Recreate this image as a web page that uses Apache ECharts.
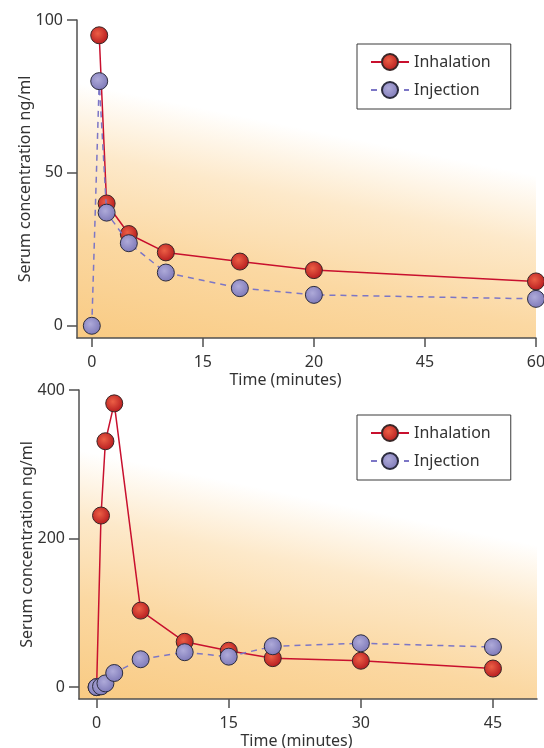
<!DOCTYPE html>
<html>
<head>
<meta charset="utf-8">
<script src="https://cdn.jsdelivr.net/npm/echarts@6/dist/echarts.min.js"></script>
<style>
html,body{margin:0;padding:0;background:#fff;}
#chart{width:544px;height:748px;}
</style>
</head>
<body>
<div id="chart"></div>
<script>
// ---- Data ----
// Top panel
const topInhalationTimes = [1, 2, 5, 10, 20, 30, 60];
const topInhalationValues = [95, 40, 30, 24, 21, 18.2, 14.5];
const topInjectionTimes = [0, 1, 2, 5, 10, 20, 30, 60];
const topInjectionValues = [0, 80, 37, 27, 17.4, 12.3, 10.1, 8.8];
const topXTickValues = [0, 15, 30, 45, 60];
const topXTickLabels = ['0', '15', '20', '45', '60'];
const topYTickValues = [0, 50, 100];

// Bottom panel
const botInhalationTimes = [0, 0.5, 1, 2, 5, 10, 15, 20, 30, 45];
const botInhalationValues = [0, 231, 331, 382, 103, 61, 49, 39, 35.5, 25];
const botInjectionTimes = [0, 0.5, 1, 2, 5, 10, 15, 20, 30, 45];
const botInjectionValues = [0, 1, 5, 19, 37.5, 47, 41, 55, 59, 54];
const botXTickValues = [0, 15, 30, 45];
const botXTickLabels = ['0', '15', '30', '45'];
const botYTickValues = [0, 200, 400];

const seriesNames = ['Inhalation', 'Injection'];
const xAxisTitle = 'Time (minutes)';
const yAxisTitle = 'Serum concentration ng/ml';

function pairs(xs, ys) { return xs.map((x, i) => [x, ys[i]]); }

const FONT = 'Noto Sans';
const TEXT = '#333333';
const AXIS = '#505050';

function makeBg() {
  return new echarts.graphic.LinearGradient(0.04, 1, 0.18, 0, [
    { offset: 0, color: '#f9cb84' },
    { offset: 0.3, color: '#fbd8a2' },
    { offset: 0.55, color: '#fde9ca' },
    { offset: 0.76, color: '#ffffff' },
    { offset: 1, color: '#ffffff' }
  ]);
}

const redFill = new echarts.graphic.RadialGradient(0.42, 0.4, 0.65, [
  { offset: 0, color: '#ec5f45' },
  { offset: 1, color: '#b2161c' }
]);
const blueFill = new echarts.graphic.RadialGradient(0.42, 0.4, 0.65, [
  { offset: 0, color: '#aeaad9' },
  { offset: 1, color: '#7b76b6' }
]);

function xAxis(gridIndex, min, max, tickVals, tickLabels, namePad) {
  return {
    type: 'value', gridIndex, min, max,
    name: xAxisTitle, nameLocation: 'middle', nameGap: 34, nameMoveOverlap: false,
    nameTextStyle: { fontFamily: FONT, fontSize: 16, color: TEXT, padding: namePad },
    axisLine: { show: true, onZero: false, lineStyle: { color: AXIS, width: 1.5 } },
    axisTick: { show: true, inside: false, length: 9, customValues: tickVals, lineStyle: { color: AXIS, width: 1.5 } },
    axisLabel: {
      customValues: tickVals, margin: 16, fontFamily: FONT, fontSize: 16, color: TEXT,
      formatter: v => tickLabels[tickVals.indexOf(v)]
    },
    splitLine: { show: false }
  };
}
function yAxis(gridIndex, min, max, tickVals) {
  return {
    type: 'value', gridIndex, min, max,
    name: yAxisTitle, nameLocation: 'middle', nameGap: 44, nameMoveOverlap: false,
    nameTextStyle: { fontFamily: FONT, fontSize: 16, color: TEXT },
    axisLine: { show: true, onZero: false, lineStyle: { color: AXIS, width: 1.5 } },
    axisTick: { show: true, inside: false, length: 10, customValues: tickVals, lineStyle: { color: AXIS, width: 1.5 } },
    axisLabel: { customValues: tickVals, margin: 14, fontFamily: FONT, fontSize: 16, color: TEXT },
    splitLine: { show: false }
  };
}
function inhal(idx, data) {
  return {
    name: seriesNames[0], type: 'line', xAxisIndex: idx, yAxisIndex: idx, data,
    symbol: 'circle', symbolSize: 17,
    lineStyle: { color: '#c8102e', width: 1.5 },
    itemStyle: { color: redFill, borderColor: '#3a2626', borderWidth: 1 },
    z: 2
  };
}
function injec(idx, data) {
  return {
    name: seriesNames[1], type: 'line', xAxisIndex: idx, yAxisIndex: idx, data,
    symbol: 'circle', symbolSize: 17,
    lineStyle: { color: '#7c76c6', width: 1.5, type: [6, 5] },
    itemStyle: { color: blueFill, borderColor: '#2c2c3e', borderWidth: 1 },
    z: 3
  };
}
function legend(top) {
  return {
    left: 357, top, orient: 'vertical', itemGap: 10, itemWidth: 38, itemHeight: 20,
    padding: [9, 20, 10, 13],
    backgroundColor: '#ffffff', borderColor: '#3a3a3a', borderWidth: 1, borderRadius: 0,
    textStyle: { fontFamily: FONT, fontSize: 16, color: TEXT },
    data: seriesNames
  };
}

const chart = echarts.init(document.getElementById('chart'), null, { renderer: 'canvas' });
chart.setOption({
  animation: false,
  backgroundColor: '#ffffff',
  grid: [
    { left: 77, top: 20, width: 459, height: 318, show: true, backgroundColor: makeBg(), borderWidth: 0, outerBoundsMode: 'none', containLabel: false },
    { left: 79, top: 390, width: 458, height: 309, show: true, backgroundColor: makeBg(), borderWidth: 0, outerBoundsMode: 'none', containLabel: false }
  ],
  xAxis: [
    xAxis(0, -2, 60, topXTickValues, topXTickLabels, [0, 42, 0, 0]),
    xAxis(1, -2, 50, botXTickValues, botXTickLabels, [0, 23, 0, 0])
  ],
  yAxis: [
    yAxis(0, -4, 100, topYTickValues),
    yAxis(1, -16, 400, botYTickValues)
  ],
  legend: [legend(44), legend(415)],
  series: [
    inhal(0, pairs(topInhalationTimes, topInhalationValues)),
    injec(0, pairs(topInjectionTimes, topInjectionValues)),
    inhal(1, pairs(botInhalationTimes, botInhalationValues)),
    injec(1, pairs(botInjectionTimes, botInjectionValues))
  ]
});
</script>
</body>
</html>
